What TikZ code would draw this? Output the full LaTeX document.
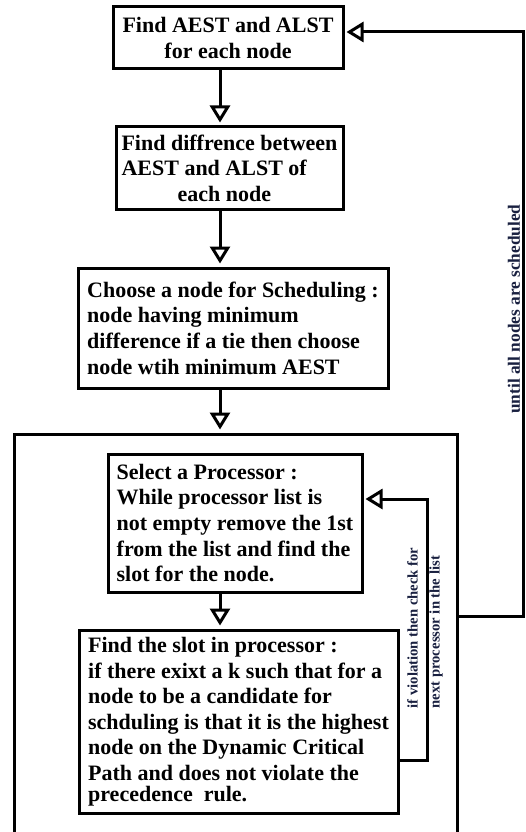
\documentclass[tikz,border=0pt]{standalone}
\usepackage{fontspec}
\setmainfont{Liberation Serif}
\usetikzlibrary{arrows.meta}
\definecolor{noteink}{RGB}{25,32,64}
\begin{document}
\begin{tikzpicture}[x=1pt,y=1pt,
  box/.style={draw,line width=3pt,inner sep=0pt,align=left,font=\fontsize{22}{25.6}\selectfont\bfseries},
  flow/.style={line width=3pt,-{Triangle[open,width=20pt,length=17pt]},shorten >=3pt},
  note/.style={rotate=90,text=noteink,align=left,inner sep=0pt}]
\useasboundingbox (0,0) rectangle (525,-832);
\clip (0,0) rectangle (525,-832);
% main steps
\node[box,align=center,minimum width=230pt,minimum height=62pt] (aest) at (228,-38) {Find AEST and ALST\\for each node};
\node[box,minimum width=227pt,minimum height=82pt] (diff) at (229.5,-168) {Find diffrence between\\AEST and ALST of\\\hspace*{56pt}each node};
\node[box,minimum width=310pt,minimum height=120pt] (choose) at (233,-328) {Choose a node for Scheduling :\\node having minimum\\difference if a tie then choose\\node wtih minimum AEST};
% processor part
\node[box,minimum width=443pt,minimum height=416pt] (outer) at (235.5,-642) {};
\node[box,minimum width=254pt,minimum height=138pt] (select) at (235,-523) {Select a Processor :\\While processor list is\\not empty remove the 1st\\from the list and find the\\slot for the node.};
\node[box,minimum width=319pt,minimum height=183pt] (slot) at (238.5,-721.5) {Find the slot in processor :\\if there exixt a k such that for a\\node to be a candidate for\\schduling is that it is the highest\\node on the Dynamic Critical\\Path and does not violate the\\[-5pt]precedence\ \ rule.};
\coordinate (spine) at (220,0);
\draw[flow] (aest.south -| spine) -- (diff.north -| spine);
\draw[flow] (diff.south -| spine) -- (choose.north -| spine);
\draw[flow] (choose.south -| spine) -- (outer.north -| spine);
\draw[flow] (select.south -| spine) -- (slot.north -| spine);
% loops
\draw[flow,shorten >=2pt] ([yshift=-38.5pt]slot.east) -- ++(28,0) |- ([yshift=24pt]select.east);
\draw[flow,shorten >=2pt] ([yshift=26pt]outer.east) -- ++(65,0) |- ([yshift=6pt]aest.east);
\node[note,font=\fontsize{14.7}{22}\selectfont\bfseries] (violation) at (425,-628) {if violation then check for\\next processor in the list};
\node[note,font=\fontsize{17.3}{20}\selectfont\bfseries] (until) at (514,-309) {until all nodes are scheduled};
\end{tikzpicture}
\end{document}
